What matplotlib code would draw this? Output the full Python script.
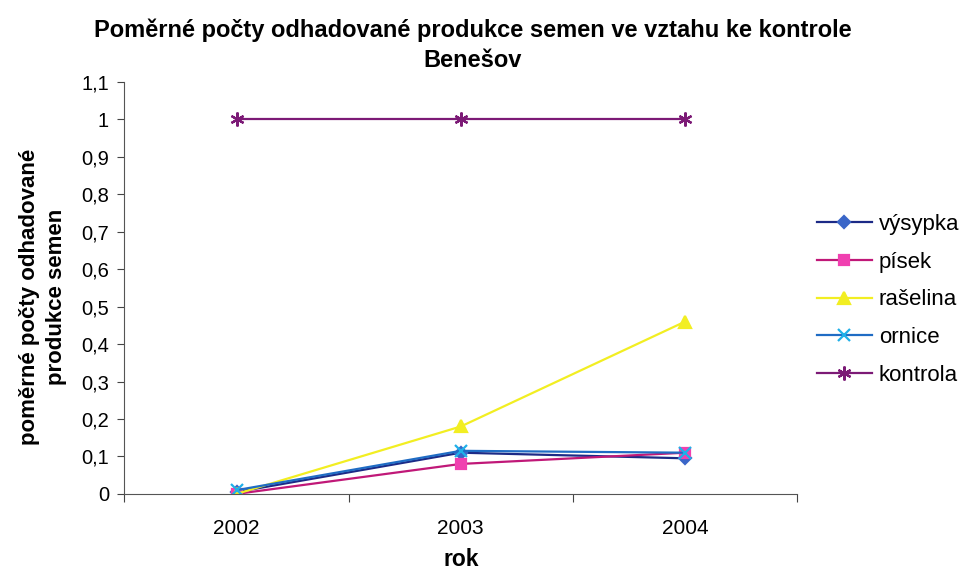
import numpy as np
import matplotlib.pyplot as plt
from matplotlib.ticker import FixedLocator, FuncFormatter

plt.rcParams['font.family'] = ['Liberation Sans', 'DejaVu Sans']

years = ['2002', '2003', '2004']
vysypka = [0.005, 0.11, 0.095]
pisek = [0.0, 0.08, 0.11]
raselina = [0.0, 0.18, 0.46]
ornice = [0.01, 0.115, 0.11]
kontrola = [1.0, 1.0, 1.0]

series = [
    ('výsypka', vysypka, '#1c2a86', 'D', '#3a66c8', 6),
    ('písek', pisek, '#c01878', 's', '#f040b0', 6.5),
    ('rašelina', raselina, '#f2ee22', '^', '#f2ee22', 8),
    ('ornice', ornice, '#1f6cc4', 'x', '#1fb0e8', 8),
    ('kontrola', kontrola, '#7c1a76', (6, 2, 0), '#7c1a76', 10),
]


def comma_fmt(v, pos):
    s = f'{v:.1f}'.replace('.', ',')
    return s[:-2] if s.endswith(',0') else s


fig = plt.figure(figsize=(9.64, 5.69), dpi=100)
ax = fig.add_axes([0.129, 0.132, 0.698, 0.724])

x = np.arange(len(years))
for name, vals, col, mk, mcol, ms in series:
    ax.plot(x, vals, color=col, lw=1.6, marker=mk, markersize=ms,
            markerfacecolor=mcol, markeredgecolor=mcol, markeredgewidth=1.6,
            label=name)

ax.set_xlim(-0.5, 2.5)
ax.set_ylim(0, 1.1)
# category ticks sit between the years, labels centred under each year
ax.xaxis.set_major_locator(FixedLocator([-0.5, 0.5, 1.5, 2.5]))
ax.xaxis.set_major_formatter(FuncFormatter(lambda v, p: ''))
ax.xaxis.set_minor_locator(FixedLocator(x))
ax.set_xticklabels(years, minor=True)
ax.tick_params(axis='x', which='minor', length=0, pad=18, labelsize=15)
ax.tick_params(axis='x', which='major', length=6, color='#444444')
ax.set_yticks(np.round(np.arange(0, 1.11, 0.1), 1))
ax.yaxis.set_major_formatter(FuncFormatter(comma_fmt))
ax.tick_params(axis='y', length=5, labelsize=14.5, color='#444444', pad=6)
for s in ['top', 'right']:
    ax.spines[s].set_visible(False)
for s in ['left', 'bottom']:
    ax.spines[s].set_color('#555555')

ax.set_xlabel('rok', fontsize=16.5, fontweight='bold', labelpad=7)
ax.set_ylabel('poměrné počty odhadované\nprodukce semen', fontsize=16,
              fontweight='bold', linespacing=1.4)
ax.yaxis.set_label_coords(-0.085, 0.478)
fig.suptitle('Poměrné počty odhadované produkce semen ve vztahu ke kontrole\nBenešov',
             x=0.49, y=0.968, fontsize=17, fontweight='bold', linespacing=1.4)

ax.legend(loc='center left', bbox_to_anchor=(0.847, 0.473),
          bbox_transform=fig.transFigure, frameon=False,
          fontsize=16, handlelength=2.5, labelspacing=0.75, borderaxespad=0,
          borderpad=0, handletextpad=0.3)

fig.savefig('out.png', dpi=100)
